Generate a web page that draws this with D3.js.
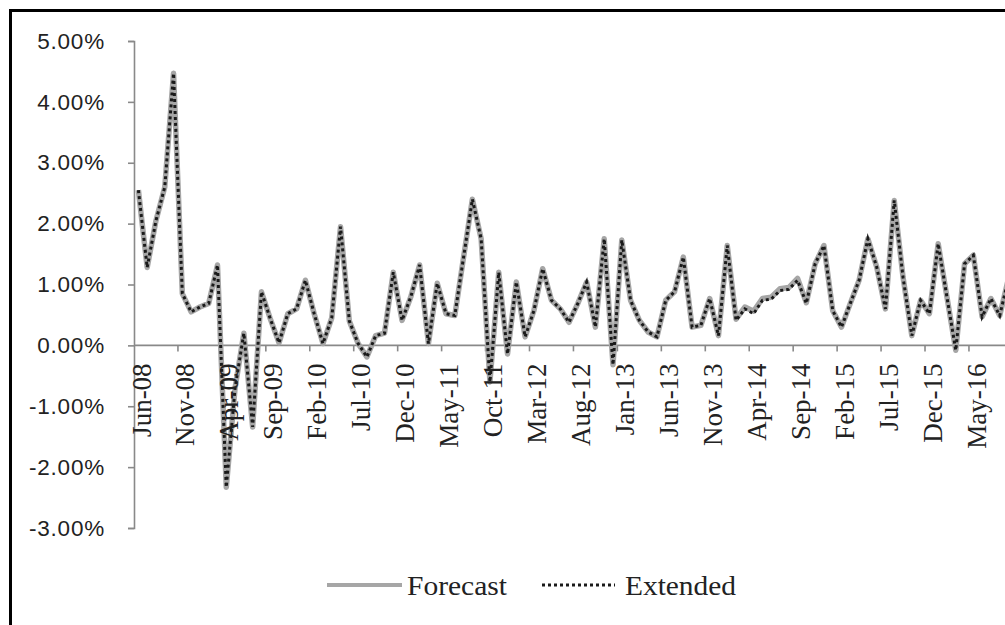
<!DOCTYPE html>
<html>
<head>
<meta charset="utf-8">
<script src="https://cdn.jsdelivr.net/npm/d3@7"></script>
<style>
  html, body { margin: 0; padding: 0; background: #fff; }
  svg { display: block; }
</style>
</head>
<body>
<svg id="chart" width="1005" height="625"></svg>
<script>
// Monthly series, Jun-08 .. Sep-16 (percent)
const startMonth = new Date(2008, 5, 1);
const endMonth = new Date(2016, 9, 1);

const extended = [
  2.55, 1.28, 2.05, 2.60, 4.47, 0.85, 0.55, 0.63, 0.69, 1.32,
  -2.33, -0.70, 0.20, -1.34, 0.88, 0.44, 0.04, 0.52, 0.60, 1.07,
  0.52, 0.03, 0.45, 1.95, 0.40, 0.03, -0.19, 0.16, 0.20, 1.20,
  0.41, 0.80, 1.32, 0.03, 1.02, 0.52, 0.49, 1.45, 2.40, 1.75,
  -0.60, 1.20, -0.14, 1.04, 0.14, 0.57, 1.26, 0.74, 0.60, 0.38,
  0.69, 1.04, 0.30, 1.75, -0.32, 1.73, 0.74, 0.41, 0.22, 0.14,
  0.74, 0.88, 1.45, 0.30, 0.33, 0.77, 0.16, 1.64, 0.41, 0.60,
  0.52, 0.74, 0.76, 0.90, 0.92, 1.07, 0.69, 1.34, 1.64, 0.57,
  0.30, 0.69, 1.07, 1.75, 1.29, 0.60, 2.38, 1.12, 0.16, 0.74,
  0.52, 1.67, 0.79, -0.08, 1.34, 1.48, 0.47, 0.77, 0.49, 1.10
];

const forecast = [
  2.55, 1.28, 2.05, 2.60, 4.47, 0.85, 0.55, 0.63, 0.69, 1.32,
  -2.33, -0.70, 0.20, -1.34, 0.88, 0.44, 0.04, 0.52, 0.60, 1.07,
  0.52, 0.03, 0.45, 1.95, 0.40, 0.03, -0.19, 0.16, 0.20, 1.20,
  0.41, 0.80, 1.32, 0.03, 1.02, 0.52, 0.49, 1.45, 2.40, 1.75,
  -0.60, 1.20, -0.14, 1.04, 0.14, 0.57, 1.26, 0.74, 0.60, 0.38,
  0.69, 1.04, 0.30, 1.75, -0.32, 1.73, 0.74, 0.41, 0.22, 0.14,
  0.74, 0.88, 1.45, 0.30, 0.33, 0.77, 0.16, 1.64, 0.43, 0.63,
  0.56, 0.77, 0.79, 0.93, 0.95, 1.10, 0.70, 1.34, 1.64, 0.57,
  0.30, 0.69, 1.07, 1.75, 1.29, 0.60, 2.38, 1.12, 0.16, 0.74,
  0.52, 1.67, 0.79, -0.08, 1.34, 1.48, 0.47, 0.77, 0.49, 1.10
];

const yTicks = [-3, -2, -1, 0, 1, 2, 3, 4, 5];
const xTickLabels = [
  "Jun-08", "Nov-08", "Apr-09", "Sep-09", "Feb-10", "Jul-10", "Dec-10",
  "May-11", "Oct-11", "Mar-12", "Aug-12", "Jan-13", "Jun-13", "Nov-13",
  "Apr-14", "Sep-14", "Feb-15", "Jul-15", "Dec-15", "May-16"
];
const seriesNames = ["Forecast", "Extended"];

const fmtMonth = d3.timeFormat("%b-%y");
const months = d3.timeMonth.range(startMonth, endMonth).map(fmtMonth);

const svg = d3.select("#chart");
const serif = "'Liberation Serif', 'Times New Roman', serif";
const sans = "'Liberation Sans', Arial, sans-serif";
const axisColor = "#898989";
const grey = "#a6a6a6";
const dark = "#1a1a1a";

// Outer frame of the chart area
svg.append("rect")
  .attr("x", 10.5).attr("y", 10.5)
  .attr("width", 1100).attr("height", 700)
  .attr("fill", "#fff")
  .attr("stroke", "#000").attr("stroke-width", 3);

const plotLeft = 134;
const step = 8.789;
const x = d3.scaleBand()
  .domain(months)
  .range([plotLeft, plotLeft + months.length * step])
  .paddingInner(0).paddingOuter(0);
const bw = x.bandwidth();

const y = d3.scaleLinear().domain([-3, 5]).range([528, 41]);

// Y axis
const yAxis = svg.append("g")
  .attr("transform", `translate(${plotLeft},0)`)
  .call(d3.axisLeft(y)
    .tickValues(yTicks)
    .tickSize(6)
    .tickPadding(23)
    .tickFormat(d => d.toFixed(2) + "%"));
yAxis.select(".domain").attr("stroke", axisColor).attr("stroke-width", 1.6);
yAxis.selectAll(".tick line").attr("stroke", axisColor).attr("stroke-width", 1.6);
yAxis.selectAll(".tick text")
  .attr("fill", "#222")
  .style("font-family", sans)
  .style("font-size", "22.5px")
  .style("letter-spacing", "0.8px");

// X axis at zero, ticks between every fifth month
const y0 = y(0);
const xAxis = svg.append("g").attr("transform", `translate(0,${y0})`);
xAxis.append("line")
  .attr("x1", plotLeft).attr("x2", 1010)
  .attr("y1", 0).attr("y2", 0)
  .attr("stroke", axisColor).attr("stroke-width", 1.6);
xAxis.selectAll("line.tick")
  .data(months.filter((m, i) => i > 0 && i % 5 === 0))
  .join("line")
  .attr("class", "tick")
  .attr("x1", d => x(d)).attr("x2", d => x(d))
  .attr("y1", 0).attr("y2", 6)
  .attr("stroke", axisColor).attr("stroke-width", 1.6);

// Series lines
const line = d3.line()
  .x((d, i) => x(months[i]) + bw / 2)
  .y(d => y(d));

svg.append("path")
  .datum(forecast)
  .attr("d", line)
  .attr("fill", "none")
  .attr("stroke", grey)
  .attr("stroke-width", 5.5)
  .attr("stroke-linejoin", "round");

svg.append("path")
  .datum(extended)
  .attr("d", line)
  .attr("fill", "none")
  .attr("stroke", dark)
  .attr("stroke-width", 3)
  .attr("stroke-dasharray", "3,3");

// Rotated month labels
svg.append("g")
  .selectAll("text")
  .data(xTickLabels)
  .join("text")
  .attr("transform", d => `translate(${x(d) + bw / 2},${y0}) rotate(-90)`)
  .attr("x", -18)
  .attr("dy", "0.45em")
  .attr("text-anchor", "end")
  .attr("fill", "#222")
  .style("font-family", serif)
  .style("font-size", "27px")
  .text(d => d);

// Legend
const legend = svg.append("g");
legend.append("line")
  .attr("x1", 327).attr("x2", 402).attr("y1", 585).attr("y2", 585)
  .attr("stroke", grey).attr("stroke-width", 4);
legend.append("text")
  .attr("x", 407).attr("y", 595)
  .attr("textLength", 100).attr("lengthAdjust", "spacingAndGlyphs")
  .attr("fill", "#222")
  .style("font-family", serif).style("font-size", "27px")
  .text(seriesNames[0]);
legend.append("line")
  .attr("x1", 542).attr("x2", 615).attr("y1", 585).attr("y2", 585)
  .attr("stroke", dark).attr("stroke-width", 3)
  .attr("stroke-dasharray", "3,3");
legend.append("text")
  .attr("x", 625).attr("y", 595)
  .attr("textLength", 111).attr("lengthAdjust", "spacingAndGlyphs")
  .attr("fill", "#222")
  .style("font-family", serif).style("font-size", "27px")
  .text(seriesNames[1]);
</script>
</body>
</html>
